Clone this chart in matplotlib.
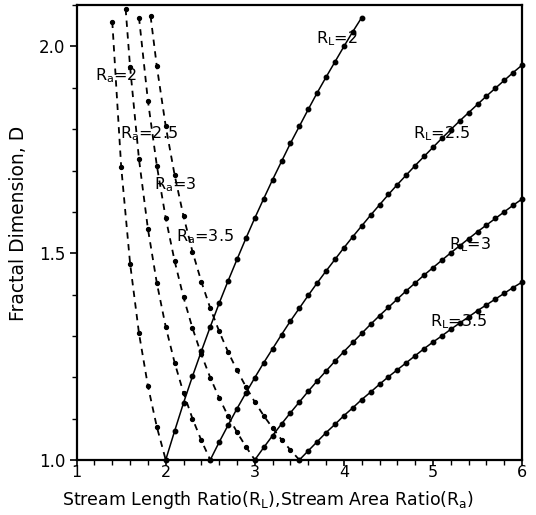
import matplotlib
matplotlib.use("Agg")
import matplotlib.pyplot as plt
from matplotlib.ticker import MultipleLocator

# Solid curves (R_L families)
x_L2 = [2.0, 2.1, 2.2, 2.3, 2.4, 2.5, 2.6, 2.7, 2.8, 2.9, 3.0, 3.1, 3.2, 3.3, 3.4, 3.5,
        3.6, 3.7, 3.8, 3.9, 4.0, 4.1, 4.2]
d_L2 = [1.000, 1.070, 1.138, 1.202, 1.263, 1.322, 1.379, 1.433, 1.485, 1.536, 1.585,
        1.632, 1.678, 1.722, 1.766, 1.807, 1.848, 1.888, 1.926, 1.963, 2.000, 2.036, 2.070]

x_L25 = [2.5, 2.6, 2.7, 2.8, 2.9, 3.0, 3.1, 3.2, 3.3, 3.4, 3.5, 3.6, 3.7, 3.8, 3.9, 4.0,
         4.1, 4.2, 4.3, 4.4, 4.5, 4.6, 4.7, 4.8, 4.9, 5.0, 5.1, 5.2, 5.3, 5.4, 5.5, 5.6,
         5.7, 5.8, 5.9, 6.0]
d_L25 = [1.000, 1.043, 1.084, 1.124, 1.162, 1.199, 1.235, 1.269, 1.303, 1.336, 1.367,
         1.398, 1.428, 1.457, 1.485, 1.513, 1.540, 1.566, 1.592, 1.617, 1.642, 1.666,
         1.689, 1.712, 1.734, 1.756, 1.778, 1.799, 1.820, 1.840, 1.860, 1.880, 1.899,
         1.918, 1.937, 1.955]

x_L3 = [3.0, 3.1, 3.2, 3.3, 3.4, 3.5, 3.6, 3.7, 3.8, 3.9, 4.0, 4.1, 4.2, 4.3, 4.4, 4.5,
        4.6, 4.7, 4.8, 4.9, 5.0, 5.1, 5.2, 5.3, 5.4, 5.5, 5.6, 5.7, 5.8, 5.9, 6.0]
d_L3 = [1.000, 1.030, 1.059, 1.087, 1.114, 1.140, 1.166, 1.191, 1.215, 1.239, 1.262,
        1.284, 1.306, 1.328, 1.349, 1.369, 1.389, 1.409, 1.428, 1.447, 1.465, 1.483,
        1.501, 1.518, 1.535, 1.552, 1.568, 1.584, 1.600, 1.616, 1.631]

x_L35 = [3.5, 3.6, 3.7, 3.8, 3.9, 4.0, 4.1, 4.2, 4.3, 4.4, 4.5, 4.6, 4.7, 4.8, 4.9, 5.0,
         5.1, 5.2, 5.3, 5.4, 5.5, 5.6, 5.7, 5.8, 5.9, 6.0]
d_L35 = [1.000, 1.022, 1.044, 1.066, 1.086, 1.107, 1.126, 1.146, 1.164, 1.183, 1.201,
         1.218, 1.235, 1.252, 1.269, 1.285, 1.300, 1.316, 1.331, 1.346, 1.361, 1.375,
         1.389, 1.403, 1.417, 1.430]

# Dashed curves (R_a families)
x_a2 = [1.4, 1.5, 1.6, 1.7, 1.8, 1.9, 2.0]
d_a2 = [2.060, 1.709, 1.475, 1.306, 1.179, 1.080, 1.000]

x_a25 = [1.55, 1.6, 1.7, 1.8, 1.9, 2.0, 2.1, 2.2, 2.3, 2.4, 2.5]
d_a25 = [2.091, 1.950, 1.727, 1.559, 1.428, 1.322, 1.235, 1.162, 1.100, 1.047, 1.000]

x_a3 = [1.7, 1.8, 1.9, 2.0, 2.1, 2.2, 2.3, 2.4, 2.5, 2.6, 2.7, 2.8, 2.9, 3.0]
d_a3 = [2.070, 1.869, 1.712, 1.585, 1.481, 1.393, 1.319, 1.255, 1.199, 1.150, 1.106,
        1.067, 1.032, 1.000]

x_a35 = [1.83, 1.9, 2.0, 2.1, 2.2, 2.3, 2.4, 2.5, 2.6, 2.7, 2.8, 2.9, 3.0, 3.1, 3.2,
         3.3, 3.4, 3.5]
d_a35 = [2.073, 1.952, 1.807, 1.689, 1.589, 1.504, 1.431, 1.367, 1.311, 1.261, 1.217,
         1.177, 1.140, 1.107, 1.077, 1.049, 1.024, 1.000]

solid_series = [(x_L2, d_L2), (x_L25, d_L25), (x_L3, d_L3), (x_L35, d_L35)]
dashed_series = [(x_a2, d_a2), (x_a25, d_a25), (x_a3, d_a3), (x_a35, d_a35)]

solid_labels = [r"R$_{\rm L}$=2", r"R$_{\rm L}$=2.5", r"R$_{\rm L}$=3", r"R$_{\rm L}$=3.5"]
solid_label_pos = [(3.69, 2.02), (4.78, 1.79), (5.18, 1.52), (4.97, 1.335)]
dashed_labels = [r"R$_{\rm a}$=2", r"R$_{\rm a}$=2.5", r"R$_{\rm a}$=3", r"R$_{\rm a}$=3.5"]
dashed_label_pos = [(1.21, 1.93), (1.49, 1.79), (1.87, 1.665), (2.11, 1.54)]

plt.rcParams['font.family'] = ['DejaVu Sans']
plt.rcParams['mathtext.fontset'] = 'dejavusans'

fig = plt.figure(figsize=(5.36, 5.15), dpi=100)
ax = fig.add_axes([0.143, 0.107, 0.831, 0.883])

for xs, ds in solid_series:
    ax.plot(xs, ds, color='black', lw=1.1, ls='-', marker='o', ms=3.2,
            clip_on=False, zorder=3)
for xs, ds in dashed_series:
    ax.plot(xs, ds, color='black', lw=1.3, ls=(0, (3.5, 3)), marker='o', ms=2.8,
            clip_on=False, zorder=3)

for lab, (lx, ly) in zip(solid_labels, solid_label_pos):
    ax.text(lx, ly, lab, fontsize=11.5, ha='left', va='center', color='black')
for lab, (lx, ly) in zip(dashed_labels, dashed_label_pos):
    ax.text(lx, ly, lab, fontsize=11.5, ha='left', va='center', color='black')

ax.set_xlim(1, 6)
ax.set_ylim(1.0, 2.1)
ax.xaxis.set_major_locator(MultipleLocator(1))
ax.xaxis.set_minor_locator(MultipleLocator(0.2))
ax.yaxis.set_major_locator(MultipleLocator(0.5))
ax.yaxis.set_minor_locator(MultipleLocator(0.1))
ax.yaxis.set_major_formatter(plt.FormatStrFormatter('%.1f'))
ax.tick_params(which='major', direction='out', length=5, width=1.2, labelsize=12)
ax.tick_params(which='minor', direction='out', length=3.5, width=1.0)
ax.tick_params(axis='x', which='major', length=4, pad=0, labelsize=11.5)
ax.tick_params(axis='y', which='major', pad=3)
for sp in ax.spines.values():
    sp.set_linewidth(1.6)

ax.set_xlabel("Stream Length Ratio(R$_{\\rm L}$),Stream Area Ratio(R$_{\\rm a}$)",
              fontsize=12.5)
ax.xaxis.set_label_coords(0.43, -0.063)
ax.set_ylabel("Fractal Dimension, D", fontsize=13.5)
ax.yaxis.set_label_coords(-0.11, 0.52)

fig.savefig("out.png", dpi=100)
